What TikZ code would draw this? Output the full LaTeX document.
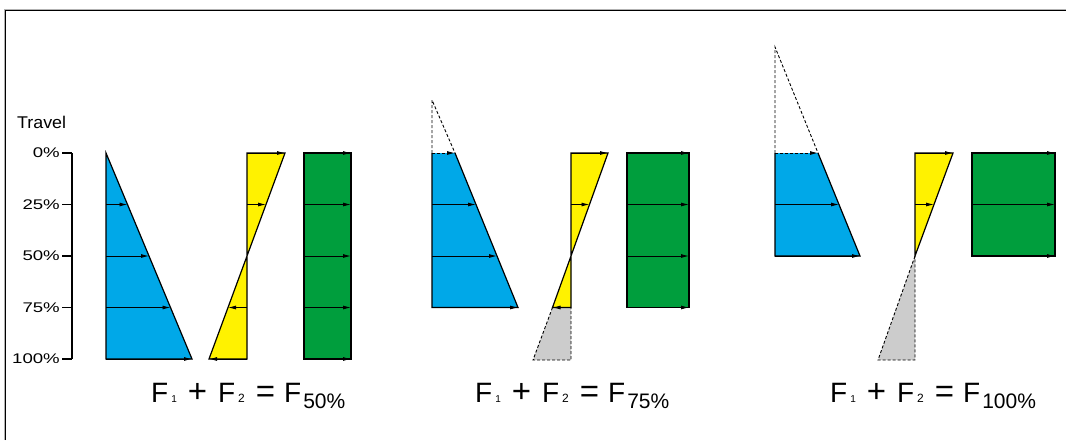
\documentclass[tikz,border=0pt]{standalone}
\usepackage{fontspec}
\setmainfont{Liberation Sans}
\usetikzlibrary{arrows.meta}
\definecolor{fblue}{RGB}{0,168,232}
\definecolor{fyellow}{RGB}{255,242,0}
\definecolor{fgreen}{RGB}{0,158,61}
\definecolor{fgray}{RGB}{204,204,204}
\newcommand{\bigop}[1]{{\fontsize{33}{33}\selectfont #1}}
\newcommand{\eqn}[1]{F\hspace{3pt}{\fontsize{10}{10}\selectfont 1}\hspace{11pt}\bigop{+}\hspace{11pt}F\hspace{3pt}{\fontsize{12}{12}\selectfont 2}\hspace{11pt}\bigop{=}\hspace{9pt}F\hspace{2pt}\raisebox{-6pt}{\fontsize{21}{21}\selectfont #1}}
\newcommand{\wide}[1]{\scalebox{1.33}[1]{#1}}
\tikzset{
  outline/.style={draw=black, line width=1.2pt, line join=miter},
  force/.style={-{Latex[length=8pt,width=4pt]}, line width=0.9pt},
  ghost/.style={dashed, dash pattern=on 3pt off 2pt, line width=0.9pt},
  pct/.style={anchor=east, font=\fontsize{14}{14}\selectfont, inner sep=0pt},
  eq/.style={anchor=base west, font=\fontsize{28}{28}\selectfont, inner sep=0pt}
}
\begin{document}
\begin{tikzpicture}[x=1pt,y=-1pt]
\useasboundingbox (0,0) rectangle (1066,440);
% frame
\draw[line width=1pt, gray!60] (4,440) -- (4,9) -- (1066,9);
\draw[line width=1.2pt] (5.3,440) -- (5.3,10.3) -- (1066,10.3);
% axis
\node[anchor=base west, font=\fontsize{17}{17}\selectfont, inner sep=0pt] (travel) at (17,128) {\scalebox{1.05}[1]{Travel}};
\coordinate (atop) at (72,153);
\coordinate (abot) at (72,359);
\draw[line width=1.3pt] (atop) -- (abot);
\foreach \y/\t [count=\i] in {153/0\%,204.5/25\%,256/50\%,307.5/75\%,359/100\%}{
  \coordinate (tk\i) at (62,\y);
  \draw[line width=1.3pt] (tk\i) -- (72,\y);
  \node[pct] (lab\i) at (60,\y) {\wide{\t}};
}
% ---------- panel 1 ----------
\fill[fblue] (106,153) -- (192,359) -- (106,359) -- cycle;
\draw[outline] (106,153) -- (192,359) -- (106,359) -- cycle;
\foreach \y/\x in {204.5/127.5,256/149,307.5/170.5,359/192}{
  \draw[force] (106,\y) -- (\x,\y);
}
\fill[fyellow] (247,153) -- (285,153) -- (247,256) -- cycle;
\fill[fyellow] (247,256) -- (209,359) -- (247,359) -- cycle;
\draw[outline] (247,153) -- (285,153) -- (209,359) -- (247,359) -- cycle;
\draw[force] (247,153) -- (285,153);
\draw[force] (247,204.5) -- (266,204.5);
\draw[force] (247,307.5) -- (228,307.5);
\draw[force] (247,359) -- (209,359);
\fill[fgreen] (304,153) rectangle (351,359);
\draw[outline] (304,153) rectangle (351,359);
\foreach \y in {153,204.5,256,307.5,359}{
  \draw[force] (304,\y) -- (351,\y);
}
\node[eq] (eq1) at (151,402) {\eqn{50\%}};
% ---------- panel 2 ----------
\draw[ghost] (432,153) -- (432,100) -- (455,153);
\fill[fblue] (432,153) -- (455,153) -- (518,307.5) -- (432,307.5) -- cycle;
\draw[outline] (455,153) -- (518,307.5) -- (432,307.5) -- (432,153);
\draw[force, ghost] (432,153) -- (455,153);
\foreach \y/\x in {204.5/476,256/497,307.5/518}{
  \draw[force] (432,\y) -- (\x,\y);
}
\fill[fyellow] (571,153) -- (608,153) -- (571,256) -- cycle;
\fill[fyellow] (571,256) -- (552.5,307.5) -- (571,307.5) -- cycle;
\fill[fgray] (552.5,307.5) -- (533,360) -- (571,360) -- (571,307.5) -- cycle;
\draw[ghost] (552.5,307.5) -- (533,360) -- (571,360) -- (571,307.5);
\draw[outline] (571,153) -- (608,153) -- (552.5,307.5) -- (571,307.5) -- cycle;
\draw[force] (571,153) -- (608,153);
\draw[force] (571,204.5) -- (589.5,204.5);
\draw[force] (571,307.5) -- (552.5,307.5);
\fill[fgreen] (627,153) rectangle (689,307.5);
\draw[outline] (627,153) rectangle (689,307.5);
\foreach \y in {153,204.5,256,307.5}{
  \draw[force] (627,\y) -- (689,\y);
}
\node[eq] (eq2) at (475,402) {\eqn{75\%}};
% ---------- panel 3 ----------
\draw[ghost] (775,153) -- (775,47) -- (818,153);
\fill[fblue] (775,153) -- (818,153) -- (860,256) -- (775,256) -- cycle;
\draw[outline] (818,153) -- (860,256) -- (775,256) -- (775,153);
\draw[force, ghost] (775,153) -- (818,153);
\foreach \y/\x in {204.5/839,256/860}{
  \draw[force] (775,\y) -- (\x,\y);
}
\fill[fyellow] (915,153) -- (953,153) -- (915,256) -- cycle;
\fill[fgray] (915,256) -- (878,360) -- (915,360) -- cycle;
\draw[ghost] (915,256) -- (878,360) -- (915,360) -- cycle;
\draw[outline] (915,153) -- (953,153) -- (915,256) -- cycle;
\draw[force] (915,153) -- (953,153);
\draw[force] (915,204.5) -- (934,204.5);
\fill[fgreen] (972,153) rectangle (1055,256);
\draw[outline] (972,153) rectangle (1055,256);
\foreach \y in {153,204.5,256}{
  \draw[force] (972,\y) -- (1055,\y);
}
\node[eq] (eq3) at (830,402) {\eqn{100\%}};
\end{tikzpicture}
\end{document}
